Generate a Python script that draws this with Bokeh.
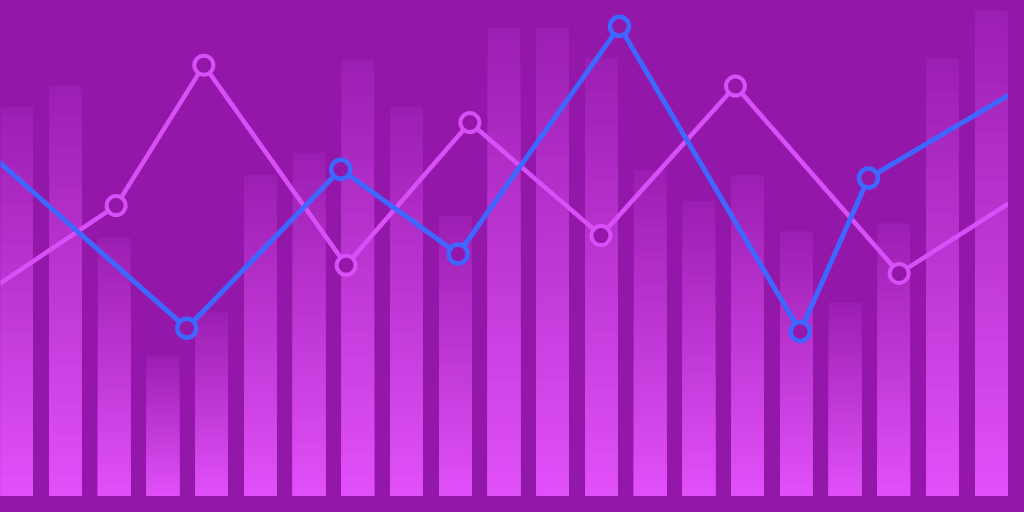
from bokeh.plotting import figure
from bokeh.models import ColumnDataSource, Range1d
from bokeh.embed import file_html
from bokeh.resources import INLINE

# ---- data ----
bar_index = list(range(21))
bar_values = [78.5, 82.8, 52.1, 28.3, 37.1, 64.8, 69.3, 87.9, 78.5, 56.6, 94.5,
              94.5, 88.3, 65.8, 59.6, 64.8, 53.5, 39.1, 55.1, 88.3, 98.0]

pink_x = [-1.14, 2.04, 3.84, 6.76, 9.30, 11.99, 14.75, 18.11, 21.16]
pink_y = [37.7, 58.65, 86.97, 46.62, 75.39, 52.60, 82.75, 44.98, 64.06]

blue_x = [-1.14, 3.49, 6.65, 9.06, 12.37, 16.08, 17.48, 21.16]
blue_y = [74.22, 33.93, 65.96, 48.89, 94.79, 33.26, 64.20, 85.55]

# ---- style ----
BG = "#9318A9"
BAR_BOTTOM = (0xE2, 0x51, 0xFA)
BG_RGB = (0x93, 0x18, 0xA9)
PINK = "#D74FF6"
BLUE = "#3F66FF"
STEPS = 40
BAR_W = 0.667

def mix(a, b, t):
    return "#%02x%02x%02x" % tuple(int(round(a[k] + (b[k] - a[k]) * t)) for k in range(3))

W, H = 1008, 496
p = figure(width=W, height=H, output_backend="svg", toolbar_location=None,
           x_range=Range1d(-0.3333, 20.354), y_range=Range1d(0, 100),
           min_border=0, min_border_left=0, min_border_right=0,
           min_border_top=0, min_border_bottom=0)
p.axis.visible = False
p.grid.visible = False
p.outline_line_color = None
p.background_fill_color = BG
p.border_fill_color = BG

# gradient bars: overlapping slices from the bar's foot, tallest (darkest) first
L, R, B, T, C = [], [], [], [], []
for s in range(STEPS, 0, -1):
    frac = s / STEPS
    t = 1.0 - 0.88 * frac
    col = mix(BG_RGB, BAR_BOTTOM, t)
    for i, v in zip(bar_index, bar_values):
        L.append(i - BAR_W / 2)
        R.append(i + BAR_W / 2)
        B.append(-1)
        T.append(v * frac)
        C.append(col)
src = ColumnDataSource(dict(left=L, right=R, bottom=B, top=T, color=C))
p.quad(left="left", right="right", bottom="bottom", top="top",
       fill_color="color", line_color=None, source=src)

# pink series
p.line(pink_x, pink_y, line_color=PINK, line_width=4.6)
p.scatter(pink_x, pink_y, marker="circle", size=19, line_width=4,
          line_color=PINK, fill_color=BG)

# blue series
p.line(blue_x, blue_y, line_color=BLUE, line_width=5)
p.scatter(blue_x, blue_y, marker="circle", size=19, line_width=4.5,
          line_color=BLUE, fill_color=BG)

html = file_html(p, INLINE)
html = html.replace("<head>", "<head><style>body{background:%s;}</style>" % BG, 1)
open("out.html", "w").write(html)
